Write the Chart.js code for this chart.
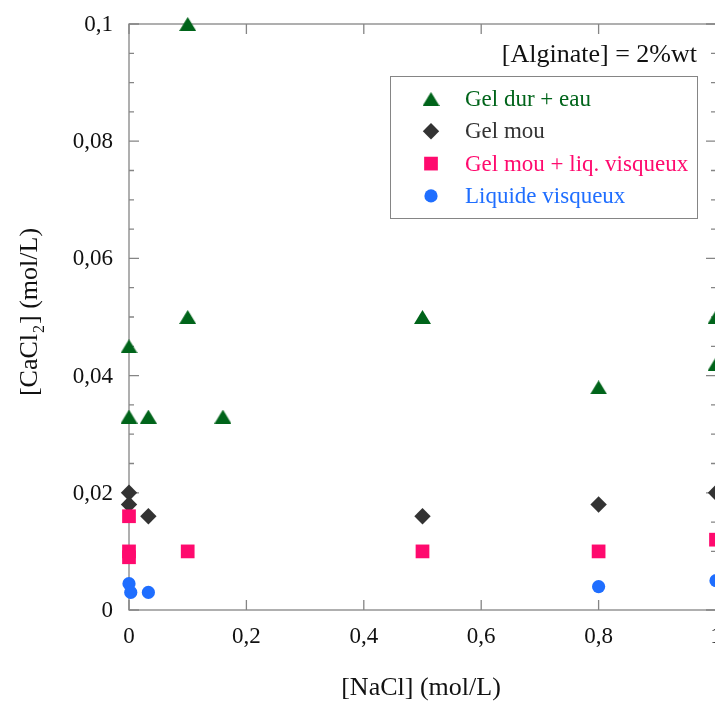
<!DOCTYPE html>
<html>
<head>
<meta charset="utf-8">
<script src="https://cdn.jsdelivr.net/npm/chart.js@4.4.1/dist/chart.umd.min.js"></script>
<style>
html, body { margin: 0; padding: 0; background: #fff; overflow: hidden; }
#wrap { width: 715px; height: 702px; overflow: hidden; }
</style>
</head>
<body>
<div id="wrap"><canvas id="chart" width="718" height="702"></canvas></div>
<script>
// series names, as in the legend
var seriesNames = ['Gel dur + eau', 'Gel mou', 'Gel mou + liq. visqueux', 'Liquide visqueux'];

// [NaCl] (x) and [CaCl2] (y), mol/L
var gelDurX = [0.1, 0, 0, 0.033, 0.1, 0.16, 0.5, 0.8, 1, 1];
var gelDurY = [0.1, 0.045, 0.033, 0.033, 0.05, 0.033, 0.05, 0.038, 0.05, 0.042];

var gelMouX = [0, 0, 0.033, 0.5, 0.8, 1];
var gelMouY = [0.02, 0.018, 0.016, 0.016, 0.018, 0.02];

var gelMouLiqX = [0, 0, 0, 0.1, 0.5, 0.8, 1];
var gelMouLiqY = [0.016, 0.01, 0.009, 0.01, 0.01, 0.01, 0.012];

var liquideX = [0, 0.003, 0.033, 0.8, 1];
var liquideY = [0.0045, 0.003, 0.003, 0.004, 0.005];

var xTicks = [0, 0.2, 0.4, 0.6, 0.8, 1];
var yTicks = [0, 0.02, 0.04, 0.06, 0.08, 0.1];
var yMinorStep = 0.005;

var noteText = '[Alginate] = 2%wt';
var xTitle = '[NaCl] (mol/L)';

var FONT = '"Liberation Serif", "Times New Roman", serif';
var AXIS = '#858585';

function pts(xs, ys) {
	return xs.map(function (x, i) { return { x: x, y: ys[i] }; });
}

function comma(v) {
	return String(+(+v).toFixed(3)).replace('.', ',');
}

// triangle marker centred on its box, like the spreadsheet one
function triangleImage(color, w, h) {
	var c = document.createElement('canvas');
	c.width = w; c.height = h;
	var g = c.getContext('2d');
	g.fillStyle = color;
	g.beginPath();
	g.moveTo(w / 2, 0);
	g.lineTo(w, h);
	g.lineTo(0, h);
	g.closePath();
	g.fill();
	return c;
}

// frame with inward ticks on all four sides, tick labels, titles, legend
var framePlugin = {
	id: 'frame',
	beforeDatasetsDraw: function (chart) {
		var ctx = chart.ctx, a = chart.chartArea;
		var xs = chart.scales.x, ys = chart.scales.y;
		ctx.save();
		ctx.strokeStyle = AXIS;
		ctx.lineWidth = 1.3;
		ctx.strokeRect(a.left, a.top, a.right - a.left, a.bottom - a.top);
		ctx.beginPath();
		xTicks.forEach(function (t) {
			var px = xs.getPixelForValue(t);
			ctx.moveTo(px, a.bottom); ctx.lineTo(px, a.bottom - 10);
			ctx.moveTo(px, a.top); ctx.lineTo(px, a.top + 10);
		});
		for (var v = 0; v <= 0.1 + 1e-9; v += yMinorStep) {
			var py = ys.getPixelForValue(v);
			var major = Math.abs(v / 0.02 - Math.round(v / 0.02)) < 1e-6;
			var len = major ? 10 : 5;
			ctx.moveTo(a.left, py); ctx.lineTo(a.left + len, py);
			ctx.moveTo(a.right, py); ctx.lineTo(a.right - len, py);
		}
		ctx.stroke();

		// tick labels
		ctx.fillStyle = '#111';
		ctx.font = '23px ' + FONT;
		ctx.textBaseline = 'middle';
		ctx.textAlign = 'right';
		yTicks.forEach(function (t) {
			ctx.fillText(comma(t), 113, ys.getPixelForValue(t) + 1);
		});
		ctx.textAlign = 'center';
		xTicks.forEach(function (t) {
			ctx.fillText(comma(t), xs.getPixelForValue(t), 637);
		});
		ctx.restore();
	},
	afterDraw: function (chart) {
		var ctx = chart.ctx, a = chart.chartArea;
		ctx.save();
		ctx.fillStyle = '#111';
		ctx.textBaseline = 'middle';

		// x title
		ctx.font = '26px ' + FONT;
		ctx.textAlign = 'center';
		ctx.fillText(xTitle, 421, 688);

		// y title with subscript
		ctx.translate(30, 312);
		ctx.rotate(-Math.PI / 2);
		var p1 = '[CaCl', sub = '2', p2 = '] (mol/L)';
		ctx.font = '26px ' + FONT;
		var w1 = ctx.measureText(p1).width, w3 = ctx.measureText(p2).width;
		ctx.font = '16px ' + FONT;
		var w2 = ctx.measureText(sub).width + 2;
		var x0 = -(w1 + w2 + w3) / 2;
		ctx.textAlign = 'left';
		ctx.font = '26px ' + FONT;
		ctx.fillText(p1, x0, 0);
		ctx.font = '16px ' + FONT;
		ctx.fillText(sub, x0 + w1 + 1, 10);
		ctx.font = '26px ' + FONT;
		ctx.fillText(p2, x0 + w1 + w2, 0);
		ctx.setTransform(1, 0, 0, 1, 0, 0);

		// note
		ctx.font = '26px ' + FONT;
		ctx.textAlign = 'right';
		ctx.fillText(noteText, 697, 55);

		// legend
		ctx.strokeStyle = AXIS;
		ctx.lineWidth = 1;
		ctx.strokeRect(390.5, 76.5, 307, 142);
		ctx.textAlign = 'left';
		ctx.font = '23px ' + FONT;
		chart.data.datasets.forEach(function (ds, i) {
			var cy = 99 + i * 32.3;
			ctx.fillStyle = ds.backgroundColor;
			ctx.strokeStyle = ds.backgroundColor;
			Chart.helpers.drawPoint(ctx, {
				pointStyle: ds.pointStyle,
				radius: ds.pointRadius,
				borderWidth: 0,
				rotation: 0
			}, 431, cy);
			ctx.fillText(ds.label, 465, cy + 1);
		});
		ctx.restore();
	}
};

var datasets = [
	{ label: seriesNames[0], data: pts(gelDurX, gelDurY), pointStyle: triangleImage('#00641a', 17, 14), pointRadius: 9, backgroundColor: '#00641a', order: 4 },
	{ label: seriesNames[1], data: pts(gelMouX, gelMouY), pointStyle: 'rectRot', pointRadius: 8.2, backgroundColor: '#333333', order: 3 },
	{ label: seriesNames[2], data: pts(gelMouLiqX, gelMouLiqY), pointStyle: 'rect', pointRadius: 9.7, backgroundColor: '#ff0a6e', order: 2 },
	{ label: seriesNames[3], data: pts(liquideX, liquideY), pointStyle: 'circle', pointRadius: 6.6, backgroundColor: '#1f6eff', order: 1 }
];
datasets.forEach(function (ds) {
	ds.borderWidth = 0;
	ds.borderColor = ds.backgroundColor;
	ds.pointHoverRadius = ds.pointRadius;
	ds.clip = false;
});

new Chart(document.getElementById('chart'), {
	type: 'scatter',
	data: { datasets: datasets },
	plugins: [framePlugin],
	options: {
		responsive: false,
		animation: false,
		layout: { autoPadding: false, padding: { left: 0, top: 24, right: 2, bottom: 0 } },
		plugins: { legend: { display: false }, tooltip: { enabled: false } },
		scales: {
			x: {
				type: 'linear', min: 0, max: 1,
				afterFit: function (s) { s.height = 92; },
				grid: { display: false },
				border: { display: false },
				ticks: { display: false }
			},
			y: {
				type: 'linear', min: 0, max: 0.1,
				afterFit: function (s) { s.width = 129; },
				grid: { display: false },
				border: { display: false },
				ticks: { display: false }
			}
		}
	}
});
</script>
</body>
</html>
